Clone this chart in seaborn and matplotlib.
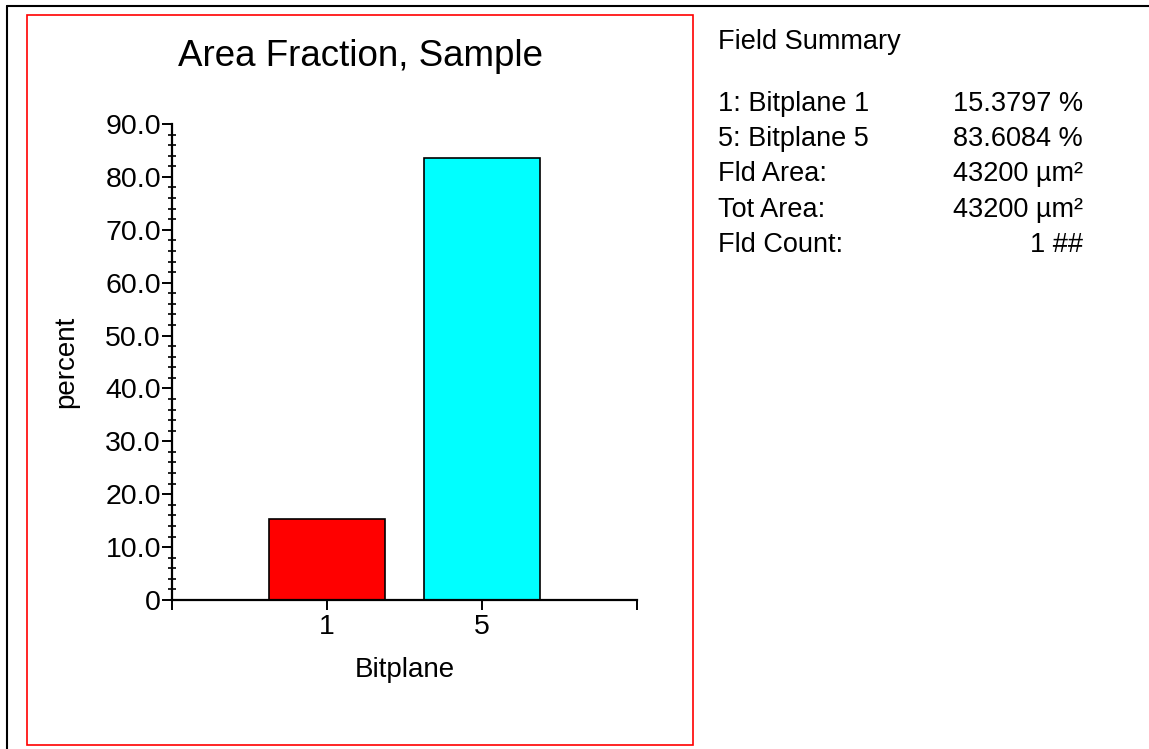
import numpy as np
import pandas as pd
import matplotlib
matplotlib.use('Agg')
import matplotlib.pyplot as plt
import seaborn as sns
from matplotlib.lines import Line2D
from matplotlib.patches import Rectangle
from matplotlib.ticker import MultipleLocator, FuncFormatter

# Datos del gráfico
bitplanes = ['1', '5']
area_pct = [15.3797, 83.6084]
bar_colors = ['#ff0000', '#00ffff']
summary_labels = ['1: Bitplane 1', '5: Bitplane 5', 'Fld Area:', 'Tot Area:', 'Fld Count:']
summary_values = ['15.3797 %', '83.6084 %', '43200 µm²', '43200 µm²', '1 ##']

W, H = 1149, 749

sns.set_style('white')
plt.rcParams['font.family'] = ['Liberation Sans', 'DejaVu Sans']
plt.rcParams['text.color'] = 'black'
plt.rcParams['axes.labelcolor'] = 'black'
plt.rcParams['xtick.color'] = 'black'
plt.rcParams['ytick.color'] = 'black'

fig = plt.figure(figsize=(W / 100, H / 100), dpi=100)
ax = fig.add_axes([172 / W, 1 - 600 / H, (637 - 172) / W, (600 - 124) / H])

df = pd.DataFrame({'Bitplane': bitplanes, 'percent': area_pct})
sns.barplot(data=df, x='Bitplane', y='percent', hue='Bitplane',
            palette=bar_colors, legend=False, width=0.75,
            edgecolor='black', linewidth=1.2, saturation=1, ax=ax)

ax.set_xlim(-1, 2)
ax.set_ylim(0, 90)
for s in ['top', 'right']:
    ax.spines[s].set_visible(False)
for s in ['left', 'bottom']:
    ax.spines[s].set_linewidth(1.6)
    ax.spines[s].set_color('black')

ax.yaxis.set_major_locator(MultipleLocator(10))
ax.yaxis.set_minor_locator(MultipleLocator(2))
ax.yaxis.set_major_formatter(FuncFormatter(lambda v, p: '0' if v == 0 else f'{v:.1f}'))
ax.set_xticks([-1, 2], minor=True)
ax.tick_params(axis='y', which='major', direction='out', length=7, width=1.4,
               labelsize=20.5, pad=1, left=True)
ax.tick_params(axis='y', which='minor', direction='inout', length=6, width=1.2, left=True)
ax.tick_params(axis='x', which='both', direction='out', length=7, width=1.4,
               labelsize=20.5, pad=3, bottom=True)

ax.set_xlabel('Bitplane', fontsize=20, labelpad=12)
ax.set_ylabel('percent', fontsize=20, labelpad=19)
ax.set_facecolor('white')

# Título centrado en el marco rojo
fig.text(361 / W, 1 - 57 / H, 'Area Fraction, Sample', fontsize=26.5,
         ha='center', va='center')

# Resumen del campo
fig.text(718 / W, 1 - 42 / H, 'Field Summary', fontsize=19.5, ha='left', va='center')
for i, (lab, val) in enumerate(zip(summary_labels, summary_values)):
    y = 1 - (104 + 35.2 * i) / H
    fig.text(718 / W, y, lab, fontsize=19.5, ha='left', va='center')
    fig.text(1083 / W, y, val, fontsize=19.5, ha='right', va='center')

# Marcos
fig.add_artist(Rectangle((27 / W, 1 - 745 / H), (693 - 27) / W, (745 - 15) / H,
                         fill=False, edgecolor='#ff0000', linewidth=1.2,
                         transform=fig.transFigure))
fig.add_artist(Line2D([7 / W, 1], [1 - 6 / H, 1 - 6 / H], color='black', linewidth=1.5,
                      transform=fig.transFigure))
fig.add_artist(Line2D([7 / W, 7 / W], [0, 1 - 6 / H], color='black', linewidth=1.5,
                      transform=fig.transFigure))

fig.savefig('out.png', dpi=100, facecolor='white')
